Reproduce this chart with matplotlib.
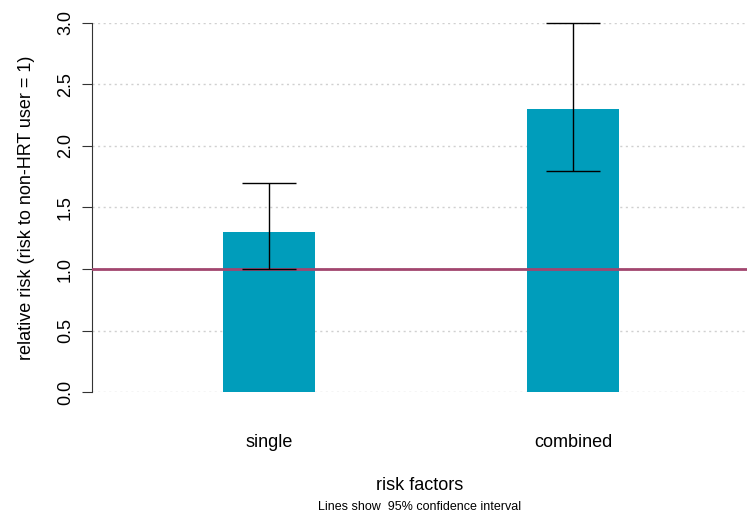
import matplotlib
matplotlib.use("Agg")
import matplotlib.pyplot as plt
import numpy as np

plt.rcParams['font.family'] = ['Liberation Sans', 'DejaVu Sans']

#------------------------------------------------
categories = ["single", "combined"]
risk = [1.3, 2.3]
ci_low = [1.0, 1.8]
ci_high = [1.7, 3.0]
yticks = [0.0, 0.5, 1.0, 1.5, 2.0, 2.5, 3.0]
#------------------------------------------------

fig = plt.figure(figsize=(7.47, 5.13), dpi=100)
ax = fig.add_axes([92/747, 121/513, 655/747, 369/513])

x = np.arange(1, len(categories) + 1)
for yv in yticks:
    ax.axhline(yv, color="#d0d0d0", lw=1, ls=(0, (1.5, 2.5)), zorder=0)

ax.bar(x, risk, width=0.30, color="#009DBB", zorder=2)
ax.axhline(1.0, color="#A2466F", lw=2, zorder=3)

err = [np.array(risk) - np.array(ci_low), np.array(ci_high) - np.array(risk)]
ax.errorbar(x, risk, yerr=err, fmt="none", ecolor="black", elinewidth=1,
             capsize=19.5, capthick=1, zorder=4, clip_on=False)

ax.set_xlim(0.418, 2.572)
ax.set_ylim(0, 3)
ax.set_yticks(yticks)
ax.set_yticklabels(["%.1f" % v for v in yticks], rotation=90, va="center", fontsize=13)
ax.set_xticks(x)
ax.set_xticklabels(categories, fontsize=13)
ax.tick_params(axis="x", length=0, pad=30)
ax.tick_params(axis="y", length=7, pad=6, color="#333333")

for s in ["top", "right", "bottom"]:
    ax.spines[s].set_visible(False)
ax.spines["left"].set_color("#333333")

ax.set_ylabel("relative risk (risk to non-HRT user = 1)", fontsize=13, labelpad=16)
fig.text((92 + 655/2) / 747, 1 - 485/513, "risk factors", ha="center", va="center", fontsize=13)
fig.text((92 + 655/2) / 747, 1 - 507/513, "Lines show  95% confidence interval", ha="center",
         va="center", fontsize=9)

fig.savefig("out.png", dpi=100)
